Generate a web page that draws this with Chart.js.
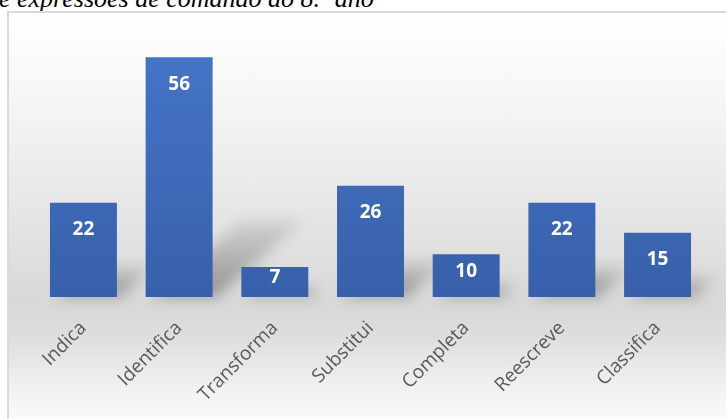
<!DOCTYPE html>
<html><head><meta charset="utf-8">
<script src="https://cdn.jsdelivr.net/npm/chart.js@4.4.0/dist/chart.umd.min.js"></script>
<style>
html,body{margin:0;padding:0;width:726px;height:419px;overflow:hidden;background:#fff;}
#cap{position:absolute;left:-1px;top:-14px;font:italic 26px/1 "Liberation Serif","Times New Roman",serif;color:#000;white-space:nowrap;}
#box{position:absolute;left:7px;top:11px;width:740px;height:430px;border:2px solid #d9d9d9;box-sizing:border-box;
 background:linear-gradient(to bottom,#ffffff 0%,#f6f6f6 20%,#e4e4e4 50%,#d8d8d8 68%,#dedede 76%,#f4f4f4 90%,#ffffff 100%);}
#wrap{position:absolute;left:0;top:0;width:726px;height:419px;}
</style></head>
<body>
<div id="cap">e expressões de comando do 8.º ano</div>
<div id="box"></div>
<div id="wrap"><canvas id="c" width="726" height="419"></canvas></div>
<script>
const categories = ["Indica","Identifica","Transforma","Substitui","Completa","Reescreve","Classifica"];
const values = [22,56,7,26,10,22,15];

const shadows = {
  id:'shadows',
  beforeDatasetsDraw(chart){
    const ctx = chart.ctx, meta = chart.getDatasetMeta(0);
    ctx.save();
    ctx.filter = 'blur(7px)';
    meta.data.forEach(bar => {
      const h = bar.base - bar.y, w = bar.width, l = bar.x - w/2, r = bar.x + w/2, b = bar.base;
      const dx = 0.38*h, dy = 0.32*h;
      const g = ctx.createLinearGradient(0, b, 0, b - dy);
      g.addColorStop(0,'rgba(0,0,0,0.32)');
      g.addColorStop(1,'rgba(0,0,0,0.08)');
      ctx.fillStyle = g;
      ctx.beginPath();
      ctx.moveTo(l+6,b); ctx.lineTo(r+4,b); ctx.lineTo(r+dx,b-dy); ctx.lineTo(l+dx+6,b-dy);
      ctx.closePath(); ctx.fill();
    });
    ctx.restore();
  }
};

const valueLabels = {
  id:'valueLabels',
  afterDatasetsDraw(chart){
    const ctx = chart.ctx, meta = chart.getDatasetMeta(0);
    ctx.save();
    ctx.font = 'bold 19px "Open Sans"';
    ctx.fillStyle = '#ffffff';
    ctx.textAlign = 'center';
    ctx.textBaseline = 'middle';
    meta.data.forEach((bar,i) => {
      const top = bar.y, bottom = bar.base;
      const y = Math.min(top + 27, (top + bottom)/2 - 4);
      ctx.fillText(String(values[i]), bar.x, y);
    });
    ctx.restore();
  }
};

new Chart(document.getElementById('c'), {
  type:'bar',
  data:{
    labels:categories,
    datasets:[{
      data:values,
      backgroundColor(ctx){
        const ca = ctx.chart.chartArea;
        if(!ca) return '#4472c4';
        const g = ctx.chart.ctx.createLinearGradient(0, ca.top, 0, ca.bottom);
        g.addColorStop(0,'#4575c8');
        g.addColorStop(1,'#3860aa');
        return g;
      },
      borderWidth:0,
      barPercentage:0.7,
      categoryPercentage:1
    }]
  },
  options:{
    responsive:false,
    animation:false,
    events:[],
    layout:{padding:{left:35.6,right:20.6,top:40,bottom:0}},
    plugins:{legend:{display:false},tooltip:{enabled:false},title:{display:false}},
    scales:{
      x:{
        grid:{display:false,drawTicks:false},
        border:{display:false},
        ticks:{color:'#595959',font:{family:'"Open Sans"',size:19},minRotation:45,maxRotation:45,padding:20},
        afterFit(s){ s.height = 122; }
      },
      y:{display:false,min:0,max:60}
    }
  },
  plugins:[shadows,valueLabels]
});
</script>
</body></html>
